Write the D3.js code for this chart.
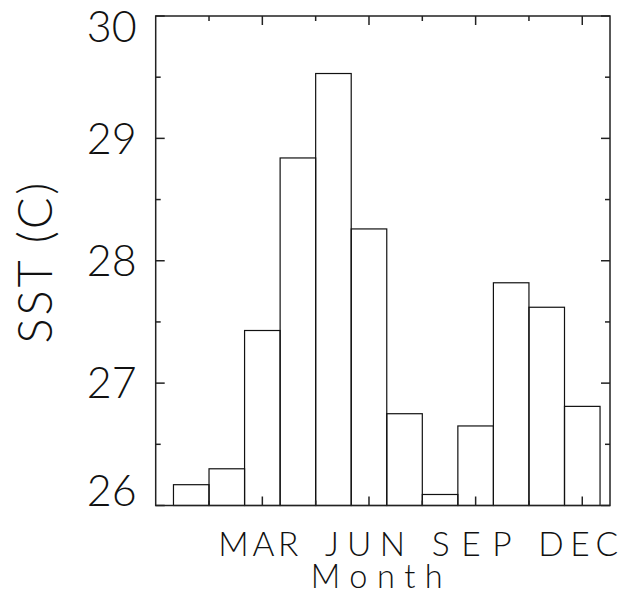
<!DOCTYPE html>
<html>
<head>
<meta charset="utf-8">
<script src="https://cdn.jsdelivr.net/npm/d3@7"></script>
<style>
  html, body { margin: 0; padding: 0; background: #fff; }
  text { font-family: "Lato", "DejaVu Sans", sans-serif; font-weight: 300; fill: #111; }
</style>
</head>
<body>
<svg id="chart" width="631" height="605"></svg>
<script>
// Monthly mean sea surface temperature (deg C)
const months = [1, 2, 3, 4, 5, 6, 7, 8, 9, 10, 11, 12];
const sst = [26.17, 26.30, 27.43, 28.84, 29.53, 28.26, 26.75, 26.09, 26.65, 27.82, 27.62, 26.81];

// Axis ticks
const xMajorTicks = [3, 6, 9, 12];
const xMajorLabels = ["MAR", "JUN", "SEP", "DEC"];
const xMinorTicks = [1.5, 4.5, 7.5, 10.5];
const yMajorTicks = [26, 27, 28, 29, 30];
const yMinorTicks = [26.5, 27.5, 28.5, 29.5];

const svg = d3.select("#chart");

const plotLeft = 155.7, plotRight = 610, plotTop = 16, plotBottom = 505.5;

const x = d3.scaleLinear().domain([0, 12.78]).range([plotLeft, plotRight]);
const y = d3.scaleLinear().domain([26, 30]).range([plotBottom, plotTop]);

// Histogram-style bars, one month wide, centred on each month
svg.append("g")
  .selectAll("rect")
  .data(months)
  .join("rect")
  .attr("x", (m) => x(m - 0.5))
  .attr("width", (m) => x(m + 0.5) - x(m - 0.5))
  .attr("y", (m, i) => y(sst[i]))
  .attr("height", (m, i) => y(26) - y(sst[i]))
  .attr("fill", "none")
  .attr("stroke", "#111")
  .attr("stroke-width", 1.2);

const majorLen = 9, minorLen = 5;
const axisStyle = (g) => g.attr("stroke", "#222").attr("stroke-width", 1.5);

// Frame
svg.append("rect")
  .attr("x", plotLeft).attr("y", plotTop)
  .attr("width", plotRight - plotLeft).attr("height", plotBottom - plotTop)
  .attr("fill", "none")
  .call(axisStyle);

const ticks = svg.append("g").call(axisStyle);

// Bottom and top x ticks (pointing inward)
const xTickData = xMajorTicks.map((v) => ({ v, len: majorLen }))
  .concat(xMinorTicks.map((v) => ({ v, len: minorLen })));
xTickData.forEach((t) => {
  ticks.append("line").attr("x1", x(t.v)).attr("x2", x(t.v))
    .attr("y1", y(26)).attr("y2", y(26) - t.len);
  ticks.append("line").attr("x1", x(t.v)).attr("x2", x(t.v))
    .attr("y1", y(30)).attr("y2", y(30) + t.len);
});

// Left and right y ticks (pointing inward)
const yTickData = yMajorTicks.map((v) => ({ v, len: majorLen }))
  .concat(yMinorTicks.map((v) => ({ v, len: minorLen })));
yTickData.forEach((t) => {
  ticks.append("line").attr("y1", y(t.v)).attr("y2", y(t.v))
    .attr("x1", plotLeft).attr("x2", plotLeft + t.len);
  ticks.append("line").attr("y1", y(t.v)).attr("y2", y(t.v))
    .attr("x1", plotRight).attr("x2", plotRight - t.len);
});

// Y tick labels; the end labels are kept inside the axis span
const labelCentre = (d) => Math.min(Math.max(y(d), plotTop + 10.7), plotBottom - 14.5);
svg.append("g")
  .selectAll("text")
  .data(yMajorTicks)
  .join("text")
  .attr("x", plotLeft - 19)
  .attr("y", (d) => labelCentre(d) + 15.3)
  .attr("text-anchor", "end")
  .attr("font-size", 43)
  .text((d) => d);

// X tick labels
svg.append("g")
  .selectAll("text")
  .data(xMajorTicks)
  .join("text")
  .attr("x", (d) => x(d) - 4)
  .attr("y", 556)
  .attr("text-anchor", "middle")
  .attr("font-size", 33.5)
  .attr("textLength", 80)
  .attr("lengthAdjust", "spacing")
  .text((d, i) => xMajorLabels[i]);

// Axis titles
svg.append("text")
  .attr("x", 376.7)
  .attr("y", 587.7)
  .attr("text-anchor", "middle")
  .attr("font-size", 32.5)
  .attr("textLength", 132)
  .attr("lengthAdjust", "spacing")
  .text("Month");

svg.append("text")
  .attr("transform", "translate(51.7,263) rotate(-90)")
  .attr("text-anchor", "middle")
  .attr("font-size", 47)
  .attr("textLength", 161)
  .attr("lengthAdjust", "spacing")
  .text("SST (C)");
</script>
</body>
</html>
